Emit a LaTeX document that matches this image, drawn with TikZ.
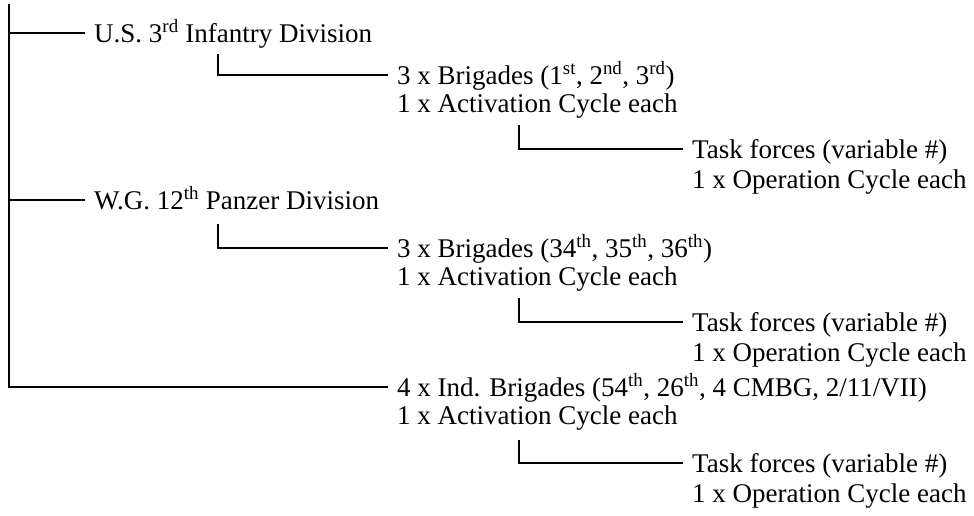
\documentclass[tikz,border=0pt]{standalone}
\usepackage{fontspec}
\setmainfont{Liberation Serif}
\begin{document}
\begin{tikzpicture}[x=1pt,y=-1pt,
  lbl/.style={anchor=west,inner xsep=9pt,inner ysep=0pt,text height=18pt,text depth=0pt,
    font=\fontsize{27}{30}\selectfont},
  conn/.style={draw=black,line width=1.7pt}]
\useasboundingbox (0,0) rectangle (974,515);
% labels
\node[lbl] (us) at (85,33) {U.S. 3\textsuperscript{rd} Infantry Division};
\node[lbl] (b1) at (388,75) {3 x Brigades (1\textsuperscript{st}, 2\textsuperscript{nd}, 3\textsuperscript{rd})};
\node[lbl] (a1) at (388,103) {1 x Activation Cycle each};
\node[lbl] (t1) at (683,149) {Task forces (variable \#)};
\node[lbl] (o1) at (683,179) {1 x Operation Cycle each};
\node[lbl] (wg) at (85,200) {W.G. 12\textsuperscript{th} Panzer Division};
\node[lbl] (b2) at (388,248) {3 x Brigades (34\textsuperscript{th}, 35\textsuperscript{th}, 36\textsuperscript{th})};
\node[lbl] (a2) at (388,276) {1 x Activation Cycle each};
\node[lbl] (t2) at (683,322) {Task forces (variable \#)};
\node[lbl] (o2) at (683,352) {1 x Operation Cycle each};
\node[lbl] (b3) at (388,387) {4 x Ind. Brigades (54\textsuperscript{th}, 26\textsuperscript{th}, 4 CMBG, 2/11/VII)};
\node[lbl] (a3) at (388,415) {1 x Activation Cycle each};
\node[lbl] (t3) at (683,463) {Task forces (variable \#)};
\node[lbl] (o3) at (683,493) {1 x Operation Cycle each};
% connector origins
\coordinate (top) at (9,4);
\coordinate (s1) at (218,54);
\coordinate (s2) at (218,224);
\coordinate (k1) at (519,125);
\coordinate (k2) at (519,298);
\coordinate (k3) at (519,440);
% connectors
\draw[conn] (top) |- (b3.west);
\draw[conn] (top |- us.west) -- (us.west);
\draw[conn] (top |- wg.west) -- (wg.west);
\draw[conn] (s1) |- (b1.west);
\draw[conn] (s2) |- (b2.west);
\draw[conn] (k1) |- (t1.west);
\draw[conn] (k2) |- (t2.west);
\draw[conn] (k3) |- (t3.west);
\end{tikzpicture}
\end{document}
